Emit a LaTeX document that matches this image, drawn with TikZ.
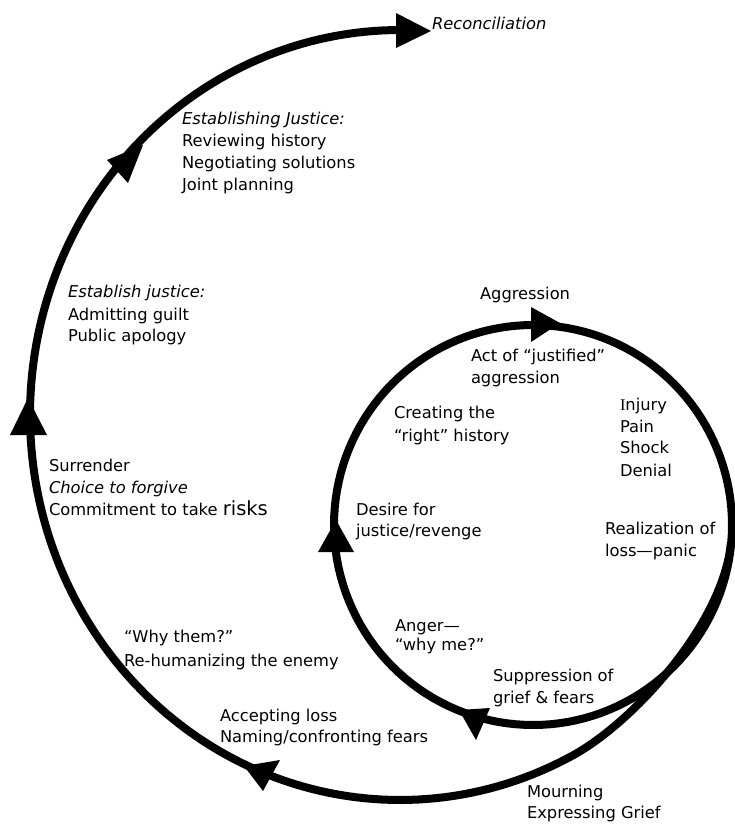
\documentclass[tikz,border=0pt]{standalone}
\usepackage{fontspec}
\setmainfont{DejaVu Sans}
\newfontfamily\capserif{Liberation Serif}
\begin{document}
\begin{tikzpicture}[x=1pt,y=-1pt,
  stroke/.style={line width=8pt, line join=round},
  head/.style={fill=black},
  lbl/.style={anchor=base west, inner sep=0pt, outer sep=0pt,
              font=\fontsize{16.3}{22}\selectfont},
  emph/.style={lbl, font=\fontsize{16.3}{22}\selectfont\itshape}]
\useasboundingbox (0,0) rectangle (735,825);
\fill[white] (0,0) rectangle (735,825);

% inner cycle
\draw[stroke] plot[domain=0:360, samples=145, variable=\t]
  ({533+199*cos(\t)},{525+200*sin(\t)}) -- cycle;

% outer spiral leaving the inner cycle
\coordinate (s0) at (731,542);
\coordinate (s1) at (724,622);
\coordinate (s2) at (635,721);
\coordinate (s3) at (573.7,754.9);
\draw[stroke] (s0) .. controls (s1) and (s2) .. (s3)
  -- plot[domain=62:270, samples=150, variable=\t]
  ({400+370*cos(\t)},{415+385*sin(\t)});

% arrow heads
\fill[head] (431,31) -- (396,13) -- (396,48) -- cycle;
\fill[head] (143,145) -- (107,160) -- (128,183) -- cycle;
\fill[head] (28,398) -- (10,435) -- (47,435) -- cycle;
\fill[head] (244,766) -- (280,760) -- (263,791) -- cycle;
\fill[head] (560,323) -- (531,307) -- (531,342) -- cycle;
\fill[head] (336,520) -- (318,552) -- (354,552) -- cycle;
\fill[head] (459,710) -- (490,708) -- (476,740) -- cycle;

% labels
\node[emph] (recon) at (432,29) {Reconciliation};

\node[emph] (estJ) at (182,124.5) {Establishing Justice:};
\node[lbl] (review) at (182,146.5) {Reviewing history};
\node[lbl] (negot) at (182,168.5) {Negotiating solutions};
\node[lbl] (joint) at (182,190.5) {Joint planning};

\node[emph] (estj) at (68,297.5) {Establish justice:};
\node[lbl] (admit) at (68,320.5) {Admitting guilt};
\node[lbl] (apology) at (68,341.5) {Public apology};

\node[lbl] (aggr) at (480,299.3) {Aggression};
\node[lbl] (act) at (471,361.5) {Act of “justified”};
\node[lbl] (act2) at (471,383.5) {aggression};

\node[lbl] (injury) at (620,410) {{\capserif I}njury};
\node[lbl] (pain) at (620,432.5) {Pain};
\node[lbl] (shock) at (620,453.5) {Shock};
\node[lbl] (denial) at (620,476) {Denial};

\node[lbl] (create) at (394,418.5) {Creating the};
\node[lbl] (create2) at (394,441) {“right” history};

\node[lbl] (surr) at (49,471.5) {Surrender};
\node[emph] (choice) at (49,493.5) {Choice to forgive};
\node[lbl] (commit) at (49,515.5) {Commitment to take {\fontsize{19.5}{22}\selectfont risks}};

\node[lbl] (desire) at (356,515.5) {Desire for};
\node[lbl] (desire2) at (356,536.5) {justice/revenge};

\node[lbl] (real) at (605,534.5) {Realization of};
\node[lbl] (real2) at (605,556.5) {loss—panic};

\node[lbl] (whythem) at (124,642.5) {“Why them?”};
\node[lbl] (rehum) at (124,666.5) {Re-humanizing the enemy};

\node[lbl] (anger) at (395,631) {Anger—};
\node[lbl] (whyme) at (395,650) {“why me?”};

\node[lbl] (supp) at (493,681.5) {Suppression of};
\node[lbl] (supp2) at (493,703.5) {grief \& fears};

\node[lbl] (accept) at (220,721.5) {Accepting loss};
\node[lbl] (naming) at (220,742.5) {Naming/confronting fears};

\node[lbl] (mourn) at (527,797) {Mourning};
\node[lbl] (express) at (527,818.5) {Expressing Grief};
\end{tikzpicture}
\end{document}
